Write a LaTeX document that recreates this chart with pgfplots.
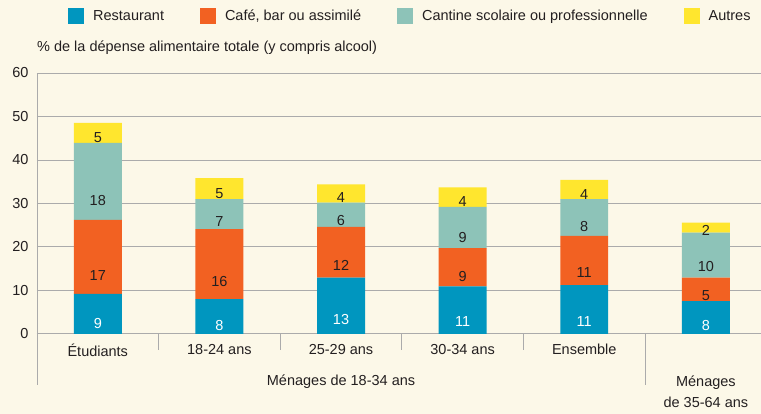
\documentclass[border=0pt]{standalone}
\usepackage{fontspec}
\setmainfont{Liberation Sans}
\usepackage{pgfplots}
\usepackage{pgfplotstable}
\pgfplotsset{compat=1.18}

\definecolor{bgcol}{HTML}{FCF8E8}
\definecolor{resto}{HTML}{0096BF}
\definecolor{cafe}{HTML}{F26122}
\definecolor{cantine}{HTML}{8DC3B8}
\definecolor{autres}{HTML}{FFE62E}
\definecolor{gridc}{HTML}{ABABAB}
\definecolor{txt}{HTML}{231F20}

% one table per series: x, raw value, printed label
\pgfplotstableread{
x y lab
0 9.2 9
1 8.0 8
2 12.9 13
3 10.9 11
4 11.2 11
5 7.5 8
}\restau
\pgfplotstableread{
x y lab
0 17.0 17
1 16.1 16
2 11.7 12
3 8.8 9
4 11.3 11
5 5.4 5
}\cafet
\pgfplotstableread{
x y lab
0 17.7 18
1 6.9 7
2 5.6 6
3 9.5 9
4 8.5 8
5 10.4 10
}\cant
\pgfplotstableread{
x y lab
0 4.6 5
1 4.8 5
2 4.2 4
3 4.5 4
4 4.4 4
5 2.3 2
}\autr

\newcommand{\fs}{\fontsize{14.5}{17}\selectfont}

\begin{document}
\begin{tikzpicture}[font=\fs, text=txt]
\fill[bgcol] (0,0) rectangle (761pt,414pt);
\begin{axis}[
    at={(37pt,80pt)}, anchor=south west,
    width=724pt, height=261pt, scale only axis,
    ybar stacked, bar width=48pt,
    xmin=-0.5, xmax=5.45, ymin=0, ymax=60,
    xtick={0,...,5},
    xticklabels={Étudiants,18-24 ans,25-29 ans,30-34 ans,Ensemble,{}},
    ytick={0,10,...,60},
    major tick length=0pt,
    axis x line*=bottom, axis y line*=left,
    axis line style={gridc, line width=0.8pt, -},
    ymajorgrids=true,
    grid style={gridc, line width=0.8pt},
    tick label style={font=\fs, text=txt},
    /pgf/number format/assume math mode=true,
    yticklabel style={xshift=-5pt},
    xticklabel style={yshift=-7pt},
    clip=false,
    nodes near coords,
    point meta=explicit symbolic,
    visualization depends on={\thisrow{y} \as \rawy},
    every node near coord/.append style={font=\fs, text=txt, anchor=center,
        shift={(axis direction cs:0,-\rawy/4)}},
    legend columns=4,
    legend style={draw=none, fill=none, font=\fs, text=txt,
        at={(rel axis cs:0,1)}, anchor=west, xshift=31pt, yshift=57pt,
        inner sep=0pt,
        /tikz/every odd column/.append style={column sep=7pt},
        /tikz/every even column/.append style={column sep=34pt}},
    legend image code/.code={\fill[#1] (0pt,-8pt) rectangle (16pt,8pt);},
]
\addplot[fill=resto, draw=none, every node near coord/.append style={text=white}]
    table[x=x, y=y, meta=lab] {\restau};
\addlegendentry{Restaurant}
\addplot[fill=cafe, draw=none] table[x=x, y=y, meta=lab] {\cafet};
\addlegendentry{Café, bar ou assimilé}
\addplot[fill=cantine, draw=none] table[x=x, y=y, meta=lab] {\cant};
\addlegendentry{Cantine scolaire ou professionnelle}
\addplot[fill=autres, draw=none] table[x=x, y=y, meta=lab] {\autr};
\addlegendentry{Autres}

% separators below the x axis
\draw[gridc, line width=0.8pt] (axis cs:0.5,0) -- ++(0pt,-16pt);
\draw[gridc, line width=0.8pt] (axis cs:1.5,0) -- ++(0pt,-16pt);
\draw[gridc, line width=0.8pt] (axis cs:2.5,0) -- ++(0pt,-16pt);
\draw[gridc, line width=0.8pt] (axis cs:3.5,0) -- ++(0pt,-16pt);
\draw[gridc, line width=0.8pt] (axis cs:-0.5,0) -- ++(0pt,-51pt);
\draw[gridc, line width=0.8pt] (axis cs:4.5,0) -- ++(0pt,-51pt);

\node[anchor=center] at ([yshift=-48pt]axis cs:2,0) {Ménages de 18-34 ans};
\node[anchor=center, align=center, font=\fontsize{14.5}{21}\selectfont]
    at ([yshift=-58pt]axis cs:5,0) {Ménages\\de 35-64 ans};
\node[anchor=base west, inner sep=0pt] at ([yshift=21pt]rel axis cs:0,1)
    {\% de la dépense alimentaire totale (y compris alcool)};
\end{axis}
\end{tikzpicture}
\end{document}
